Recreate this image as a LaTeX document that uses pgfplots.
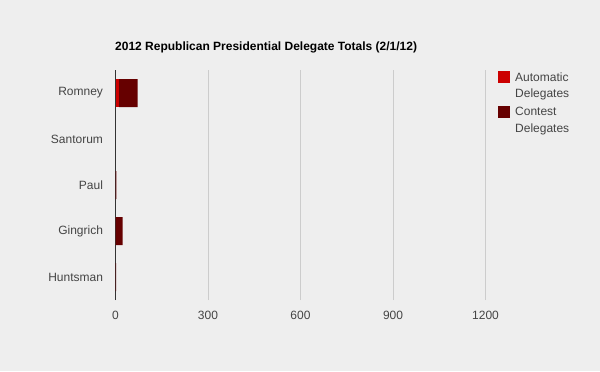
\documentclass[border=0pt]{standalone}
\usepackage{pgfplots}
\pgfplotsset{compat=1.18}
\usepackage{fontspec}
\setmainfont{Liberation Sans}
\definecolor{bgc}{HTML}{EEEEEE}
\definecolor{autoc}{HTML}{CC0000}
\definecolor{contc}{HTML}{660000}
\definecolor{txt}{HTML}{444444}
\definecolor{gridc}{HTML}{CCCCCC}
\begin{document}
\begin{tikzpicture}[x=1bp,y=1bp]
\fill[bgc] (0,0) rectangle (600,371);
\begin{axis}[
  at={(115.5bp,71bp)}, anchor=south west,
  scale only axis, width=370bp, height=230bp,
  xbar stacked, bar width=28bp,
  xmin=0, xmax=1200, ymin=-0.5, ymax=4.5,
  xtick={0,300,600,900,1200},
  ytick={0,1,2,3,4},
  yticklabels={Huntsman,Gingrich,Paul,Santorum,Romney},
  axis line style={draw=none},
  major tick length=0pt,
  xmajorgrids, grid style={gridc, line width=0.8bp},
  ticklabel style={font=\fontsize{12bp}{14bp}\selectfont, text=txt},
  /pgf/number format/assume math mode=true,
  /pgf/number format/1000 sep={},
  xticklabel style={yshift=-8bp},
  yticklabel style={xshift=-9bp},
  clip=false,
]
\addplot[fill=autoc, draw=none] coordinates {(12,4) (0,3) (0,2) (0,1) (0,0)};
\addplot[fill=contc, draw=none] coordinates {(60,4) (0,3) (3,2) (23,1) (2,0)};
\draw[black!80, line width=1bp] (axis cs:0,-0.5) -- (axis cs:0,4.5);
\end{axis}
\node[anchor=base west, font=\bfseries\fontsize{12bp}{14bp}\selectfont, text=black, inner sep=0] at (115,320.5) {2012 Republican Presidential Delegate Totals (2/1/12)};
\fill[autoc] (498,288) rectangle (510,300);
\fill[contc] (498,253.5) rectangle (510,265.5);
\node[anchor=north west, align=left, font=\fontsize{12bp}{16.5bp}\selectfont, text=txt, inner sep=0] at (515,298.5) {Automatic\\Delegates};
\node[anchor=north west, align=left, font=\fontsize{12bp}{16.5bp}\selectfont, text=txt, inner sep=0] at (515,264) {Contest\\Delegates};
\end{tikzpicture}
\end{document}
